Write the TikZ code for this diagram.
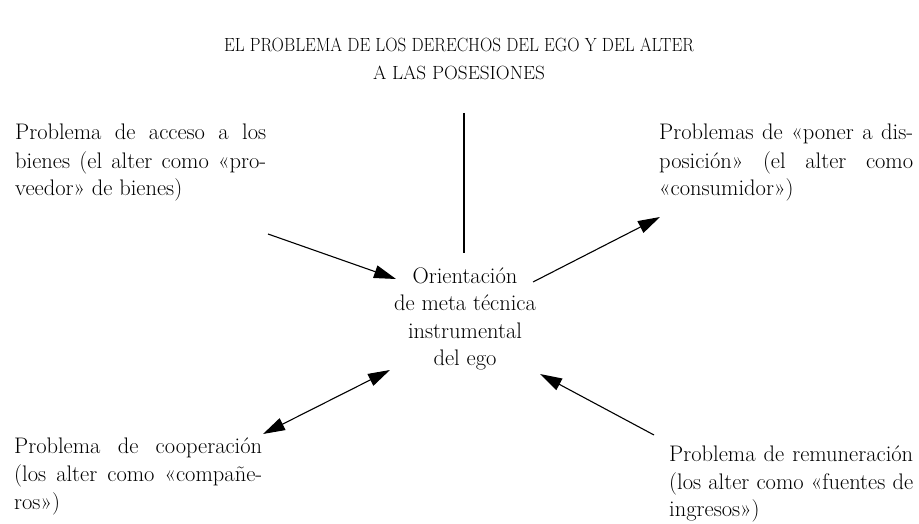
\documentclass[tikz,border=0pt]{standalone}
\usepackage{fontspec}
\usetikzlibrary{arrows.meta}
\newcommand{\jline}[2]{\makebox[#1][s]{#2}}
\begin{document}
\begin{tikzpicture}[x=1pt,y=-1pt,
  txt/.style={inner sep=0pt,font=\fontsize{22.5}{28}\selectfont},
  ttl/.style={inner sep=0pt,font=\fontsize{20}{28}\selectfont},
  conn/.style={line width=1.1pt},
  tip/.style={-{Triangle[length=22pt,width=13pt]}},
  dtip/.style={{Triangle[length=22pt,width=13pt]}-{Triangle[length=22pt,width=13pt]}}]
\useasboundingbox (0,0) rectangle (919,524);
% title
\node[ttl,anchor=base] (t1) at (459,52) {\resizebox{470pt}{13.5pt}{EL PROBLEMA DE LOS DERECHOS DEL EGO Y DEL ALTER}};
\node[ttl,anchor=base] (t2) at (459,80) {\resizebox{172pt}{13.5pt}{A LAS POSESIONES}};
% top left
\node[txt,anchor=base west] (tl1) at (15,140) {\jline{251pt}{Problema de acceso a los}};
\node[txt,anchor=base west] (tl2) at (15,168) {\jline{251pt}{bienes (el alter como «pro-}};
\node[txt,anchor=base west] (tl3) at (15,196) {veedor» de bienes)};
% top right
\node[txt,anchor=base west] (tr1) at (659,140) {\jline{254pt}{Problemas de «poner a dis-}};
\node[txt,anchor=base west] (tr2) at (659,168) {\jline{254pt}{posición» (el alter como}};
\node[txt,anchor=base west] (tr3) at (659,196) {«consumidor»)};
% center
\node[txt,anchor=base] (c1) at (465,283) {Orientación};
\node[txt,anchor=base] (c2) at (465,310) {de meta técnica};
\node[txt,anchor=base] (c3) at (465,338) {instrumental};
\node[txt,anchor=base] (c4) at (465,365) {del ego};
% bottom left
\node[txt,anchor=base west] (bl1) at (14,453) {\jline{248pt}{Problema de cooperación}};
\node[txt,anchor=base west] (bl2) at (14,481) {\jline{248pt}{(los alter como «compañe-}};
\node[txt,anchor=base west] (bl3) at (14,509) {ros»)};
% bottom right
\node[txt,anchor=base west] (br1) at (669,461) {\jline{244pt}{Problema de remuneración}};
\node[txt,anchor=base west] (br2) at (669,489) {\jline{244pt}{(los alter como «fuentes de}};
\node[txt,anchor=base west] (br3) at (669,516) {ingresos»)};
% connectors
\coordinate (vtop) at (464,113);
\coordinate (vbot) at (464,253);
\coordinate (a1s) at (268,234);
\coordinate (a1e) at (396,279);
\coordinate (a2s) at (533,282);
\coordinate (a2e) at (660,217);
\coordinate (a3s) at (263,434);
\coordinate (a3e) at (390,370);
\coordinate (a4s) at (654,435);
\coordinate (a4e) at (540,374);
\draw[conn] (vtop) -- (vbot);
\draw[conn,tip] (a1s) -- (a1e);
\draw[conn,tip] (a2s) -- (a2e);
\draw[conn,dtip] (a3s) -- (a3e);
\draw[conn,tip] (a4s) -- (a4e);
\end{tikzpicture}
\end{document}
